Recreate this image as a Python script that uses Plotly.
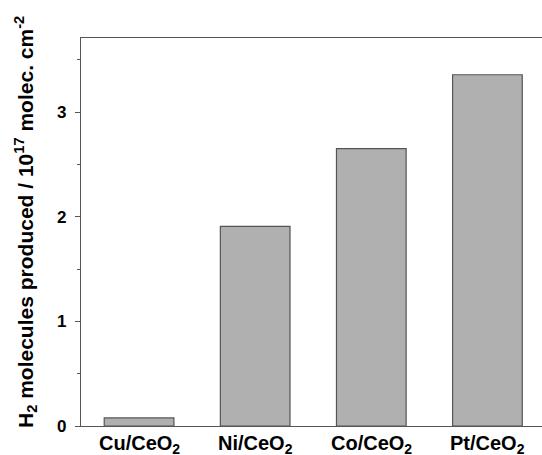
import plotly.graph_objects as go

categories = ["Cu/CeO<sub>2</sub>", "Ni/CeO<sub>2</sub>", "Co/CeO<sub>2</sub>", "Pt/CeO<sub>2</sub>"]
values = [0.077, 1.908, 2.651, 3.356]
y_ticks = [0, 1, 2, 3]
y_title = "H<sub>2</sub> molecules produced / 10<sup>17</sup> molec. cm<sup>-2</sup>"

FONT = "Arial, Liberation Sans, sans-serif"
LINE = "#555555"

fig = go.Figure()
fig.add_trace(go.Bar(
    x=list(range(len(categories))), y=values,
    width=0.6,
    marker=dict(color="#b0b0b0", line=dict(color=LINE, width=1.2)),
))

for i, c in enumerate(categories):
    fig.add_annotation(
        x=i, xref="x", y=0, yref="paper", yanchor="top", xanchor="center",
        yshift=-4, showarrow=False,
        text="<b>%s</b>" % c, font=dict(size=20, family=FONT, color="black"),
    )

fig.add_annotation(
    x=0, xref="paper", y=0.5, yref="paper", xanchor="center", yanchor="middle",
    xshift=-56, yshift=10, showarrow=False, textangle=-90,
    text="<b>%s</b>" % y_title, font=dict(size=21, family=FONT, color="black"),
)

fig.update_layout(
    width=542, height=455,
    margin=dict(l=81, r=0, t=38, b=29),
    plot_bgcolor="white", paper_bgcolor="white",
    showlegend=False,
    font=dict(family=FONT, color="black"),
    xaxis=dict(
        range=[-0.5, 3.47], automargin=False,
        showticklabels=False,
        showline=True, linecolor=LINE, linewidth=1.2, mirror=True,
        ticks="", showgrid=False, zeroline=False,
    ),
    yaxis=dict(
        range=[0, 3.707], automargin=False,
        tickmode="array", tickvals=y_ticks, ticktext=["<b>%d</b>" % v for v in y_ticks],
        showline=True, linecolor=LINE, linewidth=1.2,
        ticks="outside", ticklen=5, tickcolor=LINE, tickwidth=1,
        ticklabelstandoff=5,
        minor=dict(ticks="outside", dtick=0.5, tick0=0, ticklen=3, tickcolor=LINE, tickwidth=1),
        showgrid=False, zeroline=False,
        tickfont=dict(size=17, family=FONT, color="black"),
    ),
)

fig.write_html("out.html", config={"displayModeBar": False},
               post_script="document.body.style.margin='0';document.body.style.overflow='hidden';")
